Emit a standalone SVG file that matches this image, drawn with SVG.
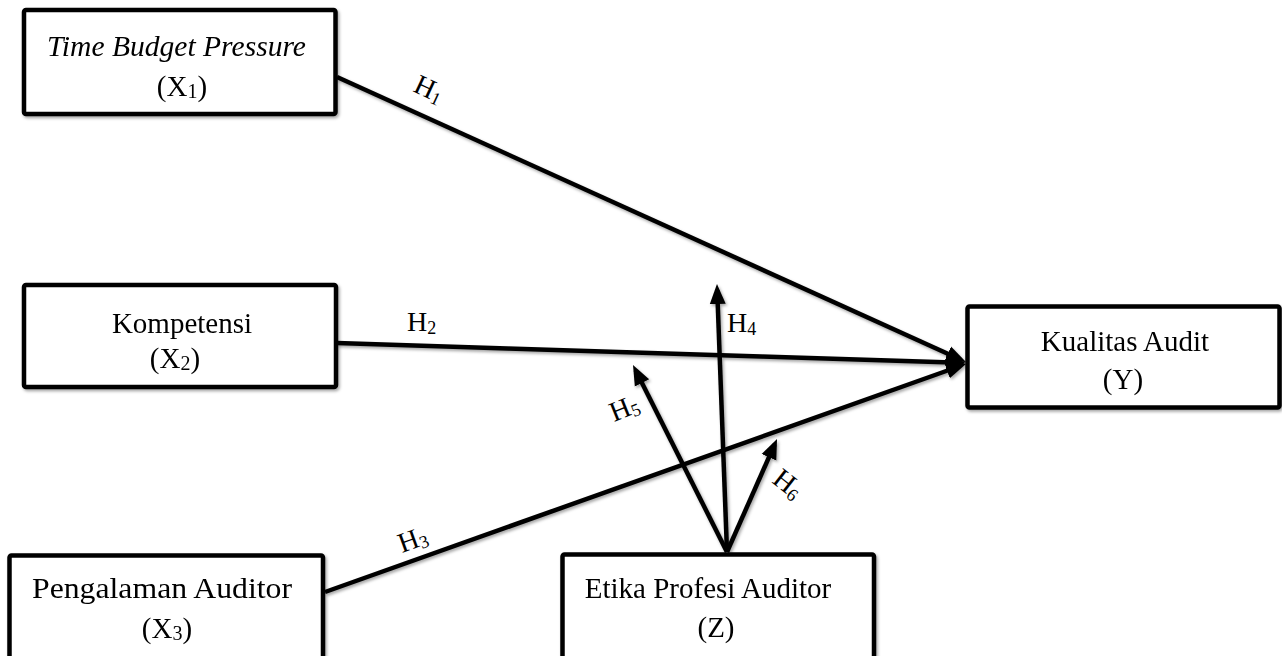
<svg xmlns="http://www.w3.org/2000/svg" width="1282" height="656" viewBox="0 0 1282 656">
<style>
.box{fill:#fff;stroke:#000;stroke-width:4.5;stroke-linejoin:round}
.t{font-family:"Liberation Serif","Times New Roman",serif;font-size:29px;fill:#000}
.lbl{font-family:"Liberation Serif","Times New Roman",serif;font-size:28px;fill:#000}
.sub{font-size:18px}
.ln{stroke:#000;stroke-width:4.5;fill:none}
</style>
<defs>
<filter id="sh" x="-10%" y="-10%" width="120%" height="130%">
<feDropShadow dx="1.5" dy="2" stdDeviation="1.5" flood-color="#000" flood-opacity="0.35"/>
</filter>
<marker id="ah" markerUnits="userSpaceOnUse" markerWidth="22" markerHeight="18" refX="14" refY="8.5" orient="auto">
<path d="M0,0.5 L20,8.5 L0,16.5 Z" fill="#000"/>
</marker>
</defs>
<g id="connectors" filter="url(#sh)">
<line class="ln" x1="337" y1="77" x2="960.5" y2="359.5" marker-end="url(#ah)"/>
<line class="ln" x1="337" y1="343" x2="960" y2="362.8" marker-end="url(#ah)"/>
<line class="ln" x1="325" y1="592" x2="960.3" y2="366" marker-end="url(#ah)"/>
<line class="ln" x1="727" y1="552" x2="717.2" y2="290" marker-end="url(#ah)"/>
<line class="ln" x1="727" y1="552" x2="635.7" y2="370.4" marker-end="url(#ah)"/>
<line class="ln" x1="727" y1="552" x2="774.6" y2="444.5" marker-end="url(#ah)"/>
</g>
<g id="labels">
<text class="lbl" transform="translate(412,91) rotate(25)">H<tspan class="sub" dy="3">1</tspan></text>
<text class="lbl" x="407" y="331">H<tspan class="sub" dy="3">2</tspan></text>
<text class="lbl" transform="translate(402,553) rotate(-20)">H<tspan class="sub" dy="3">3</tspan></text>
<text class="lbl" x="727" y="332">H<tspan class="sub" dy="3">4</tspan></text>
<text class="lbl" transform="translate(614,422) rotate(-22)">H<tspan class="sub" dy="3">5</tspan></text>
<text class="lbl" transform="translate(771,482) rotate(38)">H<tspan class="sub" dy="3">6</tspan></text>
</g>
<g id="node-x1" filter="url(#sh)">
<rect class="box" x="24" y="10" width="311.5" height="104" rx="2"/>
<text class="t" x="47" y="56" font-style="italic" textLength="259" lengthAdjust="spacingAndGlyphs">Time Budget Pressure</text>
<text class="t" x="182" y="96" text-anchor="middle">(X<tspan font-size="20" dy="2">1</tspan><tspan dy="-2">)</tspan></text>
</g>
<g id="node-x2" filter="url(#sh)">
<rect class="box" x="24" y="285" width="312" height="102" rx="2"/>
<text class="t" x="182" y="333" text-anchor="middle">Kompetensi</text>
<text class="t" x="175" y="368" text-anchor="middle">(X<tspan font-size="20" dy="2">2</tspan><tspan dy="-2">)</tspan></text>
</g>
<g id="node-x3" filter="url(#sh)">
<rect class="box" x="9.5" y="555.5" width="313.5" height="110" rx="2"/>
<text class="t" x="32" y="598" textLength="260" lengthAdjust="spacingAndGlyphs">Pengalaman Auditor</text>
<text class="t" x="167" y="638" text-anchor="middle">(X<tspan font-size="20" dy="2">3</tspan><tspan dy="-2">)</tspan></text>
</g>
<g id="node-z" filter="url(#sh)">
<rect class="box" x="562.5" y="554.5" width="311.5" height="110" rx="2"/>
<text class="t" x="708" y="598" text-anchor="middle">Etika Profesi Auditor</text>
<text class="t" x="716" y="637" text-anchor="middle">(Z)</text>
</g>
<g id="node-y" filter="url(#sh)">
<rect class="box" x="967.5" y="306.5" width="312" height="101" rx="2"/>
<text class="t" x="1125" y="351" text-anchor="middle">Kualitas Audit</text>
<text class="t" x="1123" y="389" text-anchor="middle">(Y)</text>
</g>
</svg>
